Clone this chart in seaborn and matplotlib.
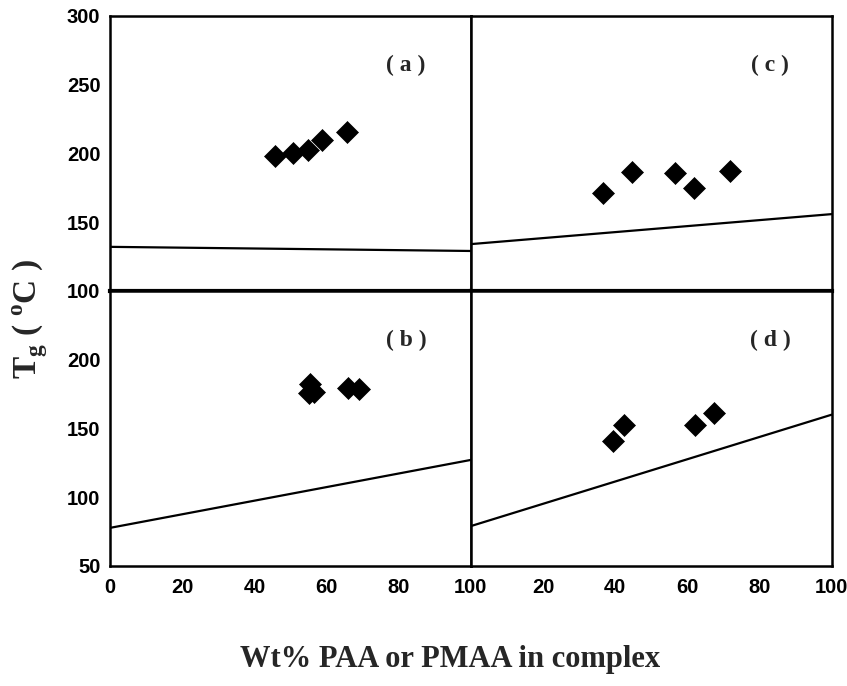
import matplotlib
matplotlib.use("Agg")
import matplotlib.pyplot as plt
import seaborn as sns
import pandas as pd

sns.set_theme(style="white")
plt.rcParams['font.family'] = ['Liberation Sans', 'DejaVu Sans']

# ---- data ----
a_x = [45.7, 50.6, 54.9, 58.6, 65.7]
a_y = [198, 200, 202.5, 210, 215.5]
a_line_x = [0, 100]
a_line_y = [132, 129]

b_x = [55.5, 55.0, 56.5, 66.0, 69.0]
b_y = [182, 175.5, 176.5, 179.5, 179]
b_line_x = [0, 100]
b_line_y = [77.7, 127.1]

c_x = [36.5, 44.6, 56.6, 61.7, 71.8]
c_y = [171, 186.4, 185.5, 175.1, 187.2]
c_line_x = [0, 100]
c_line_y = [134, 155.8]

d_x = [39.3, 42.5, 62.1, 67.3]
d_y = [140.5, 152.3, 152.8, 160.9]
d_line_x = [0, 100]
d_line_y = [79, 160]

panel_labels = ["( a )", "( b )", "( c )", "( d )"]
x_ticks = [0, 20, 40, 60, 80, 100]
top_yticks = [100, 150, 200, 250, 300]
bot_yticks = [50, 100, 150, 200]

fig, axes = plt.subplots(2, 2, figsize=(8.47, 6.86), dpi=100)
fig.subplots_adjust(left=0.130, right=0.982, top=0.977, bottom=0.175, hspace=0, wspace=0)

panels = {
    (0, 0): (a_x, a_y, a_line_x, a_line_y, panel_labels[0], (100, 300)),
    (1, 0): (b_x, b_y, b_line_x, b_line_y, panel_labels[1], (50, 250)),
    (0, 1): (c_x, c_y, c_line_x, c_line_y, panel_labels[2], (100, 300)),
    (1, 1): (d_x, d_y, d_line_x, d_line_y, panel_labels[3], (50, 250)),
}

for (r, c), (px, py, lx, ly, lab, ylim) in panels.items():
    ax = axes[r, c]
    sns.lineplot(x=lx, y=ly, ax=ax, color="black", linewidth=1.6)
    sns.scatterplot(x=px, y=py, ax=ax, marker="D", color="black", s=125,
                    edgecolor="black", linewidth=0.5, zorder=5)
    ax.set_xlim(0, 100)
    ax.set_ylim(*ylim)
    for sp in ax.spines.values():
        sp.set_visible(True)
        sp.set_color("black")
        sp.set_linewidth(1.8)
    ax.tick_params(direction="in", length=4, width=1.2, colors="black",
                   labelsize=14.5, top=False, right=False)
    ax.tick_params(axis="y", pad=7)
    ax.tick_params(axis="x", pad=9)
    ax.set_xticks(x_ticks)
    ax.set_yticks(top_yticks if r == 0 else bot_yticks)
    if r == 0:
        ax.set_xticklabels([])
        ax.spines['bottom'].set_linewidth(3)
    else:
        if c == 0:
            ax.set_xticklabels([str(t) for t in x_ticks], fontweight="bold")
        else:
            ax.set_xticklabels([""] + [str(t) for t in x_ticks[1:]], fontweight="bold")
    if c == 0:
        ax.set_yticklabels([str(t) for t in ax.get_yticks().astype(int)], fontweight="bold")
    else:
        ax.set_yticklabels([])
    ax.set_xlabel("")
    ax.set_ylabel("")
    ax.text(82 if c == 0 else 83, 0.82 * (ylim[1] - ylim[0]) + ylim[0], lab,
            ha="center", va="center", fontsize=17, fontweight="bold",
            family=["Liberation Serif", "DejaVu Serif"])

fig.text(0.036, 0.535, r"T$_\mathregular{g}$ ( $^\mathregular{o}$C )", rotation=90,
         ha="center", va="center", fontsize=24, fontweight="bold",
         family=["Liberation Serif", "DejaVu Serif"])
fig.text(0.531, 0.038, "Wt% PAA or PMAA in complex", ha="center", va="center",
         fontsize=22, fontweight="bold", family=["Liberation Serif", "DejaVu Serif"])

fig.savefig("out.png", dpi=100)
